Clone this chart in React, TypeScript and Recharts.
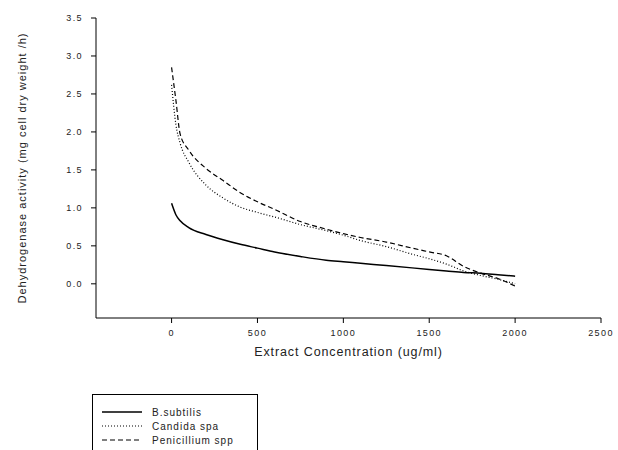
import React from "react";
import { LineChart, Line, XAxis, YAxis } from "recharts";

const concentrations = [0, 25, 50, 100, 200, 300, 400, 500, 600, 750, 900, 1000, 1100, 1250, 1400, 1500, 1600, 1700, 1800, 1900, 2000];
const bSubtilis = [1.06, 0.91, 0.83, 0.74, 0.65, 0.58, 0.52, 0.47, 0.42, 0.36, 0.31, 0.29, 0.27, 0.24, 0.21, 0.19, 0.17, 0.15, 0.14, 0.12, 0.1];
const candida = [2.62, 2.1, 1.85, 1.6, 1.3, 1.13, 1.01, 0.94, 0.88, 0.78, 0.7, 0.64, 0.57, 0.49, 0.39, 0.33, 0.26, 0.17, 0.11, 0.06, 0.0];
const penicillium = [2.85, 2.42, 1.97, 1.76, 1.52, 1.36, 1.2, 1.08, 0.98, 0.82, 0.72, 0.66, 0.61, 0.55, 0.47, 0.42, 0.37, 0.23, 0.14, 0.07, -0.03];

const xTicks = [0, 500, 1000, 1500, 2000, 2500];
const yTicks = [0, 0.5, 1, 1.5, 2, 2.5, 3, 3.5];

const seriesNames = ["B.subtilis", "Candida spa", "Penicillium spp"];
const seriesDash = ["", "1 2", "5 3"];

const data = concentrations.map((x, i) => ({
  x,
  b: bSubtilis[i],
  c: candida[i],
  p: penicillium[i],
}));

const font = "'Liberation Sans', Arial, sans-serif";
const tickStyle = { fontSize: 9, fill: "#222", fontFamily: font, letterSpacing: 1.4 };

export default function App() {
  return (
    <div style={{ position: "absolute", left: 0, top: 0, width: 618, height: 450, background: "#fff" }}>
      <LineChart width={618} height={450} data={data} margin={{ top: 18, right: 17, bottom: 102, left: 0 }}>
        <XAxis
          dataKey="x"
          type="number"
          domain={[-440, 2500]}
          ticks={xTicks}
          tickSize={5}
          tickMargin={7}
          tick={tickStyle}
          stroke="#000"
          allowDataOverflow
          label={(props: any) => {
            const vb = props.viewBox;
            return (
              <text x={vb.x + vb.width / 2} y={vb.y + 38} textAnchor="middle" fontSize={12.5} fill="#222" fontFamily={font} letterSpacing={0.9}>
                Extract Concentration (ug/ml)
              </text>
            );
          }}
        />
        <YAxis
          type="number"
          domain={[-0.45, 3.5]}
          ticks={yTicks}
          width={96}
          tickSize={5}
          tickMargin={8}
          tick={tickStyle}
          tickFormatter={(v: number) => v.toFixed(1)}
          stroke="#000"
          allowDataOverflow
          label={(props: any) => {
            const vb = props.viewBox;
            const cy = vb.y + vb.height / 2;
            return (
              <text x={23} y={cy} transform={`rotate(-90 23 ${cy})`} textAnchor="middle" dominantBaseline="middle" fontSize={11} fill="#222" fontFamily={font} letterSpacing={1}>
                Dehydrogenase activity (mg cell dry weight /h)
              </text>
            );
          }}
        />
        <Line type="monotone" dataKey="b" stroke="#000" strokeWidth={1.5} dot={false} isAnimationActive={false} />
        <Line type="monotone" dataKey="c" stroke="#000" strokeWidth={1.2} strokeDasharray="1 2" dot={false} isAnimationActive={false} />
        <Line type="monotone" dataKey="p" stroke="#000" strokeWidth={1.2} strokeDasharray="5 3" dot={false} isAnimationActive={false} />
      </LineChart>
      <div
        style={{
          position: "absolute",
          left: 92,
          top: 394,
          width: 166,
          height: 70,
          border: "1px solid #000",
          boxSizing: "border-box",
          fontFamily: font,
          fontSize: 10,
          letterSpacing: 1,
          color: "#222",
        }}
      >
        {seriesNames.map((name, i) => (
          <div key={name} style={{ position: "absolute", left: 9, top: 10 + i * 14, height: 14, display: "flex", alignItems: "center" }}>
            <svg width={40} height={4} style={{ marginRight: 10 }}>
              <line x1={0} y1={2} x2={40} y2={2} stroke="#000" strokeWidth={i === 0 ? 1.5 : 1.2} strokeDasharray={seriesDash[i] || undefined} />
            </svg>
            <span>{name}</span>
          </div>
        ))}
      </div>
    </div>
  );
}
